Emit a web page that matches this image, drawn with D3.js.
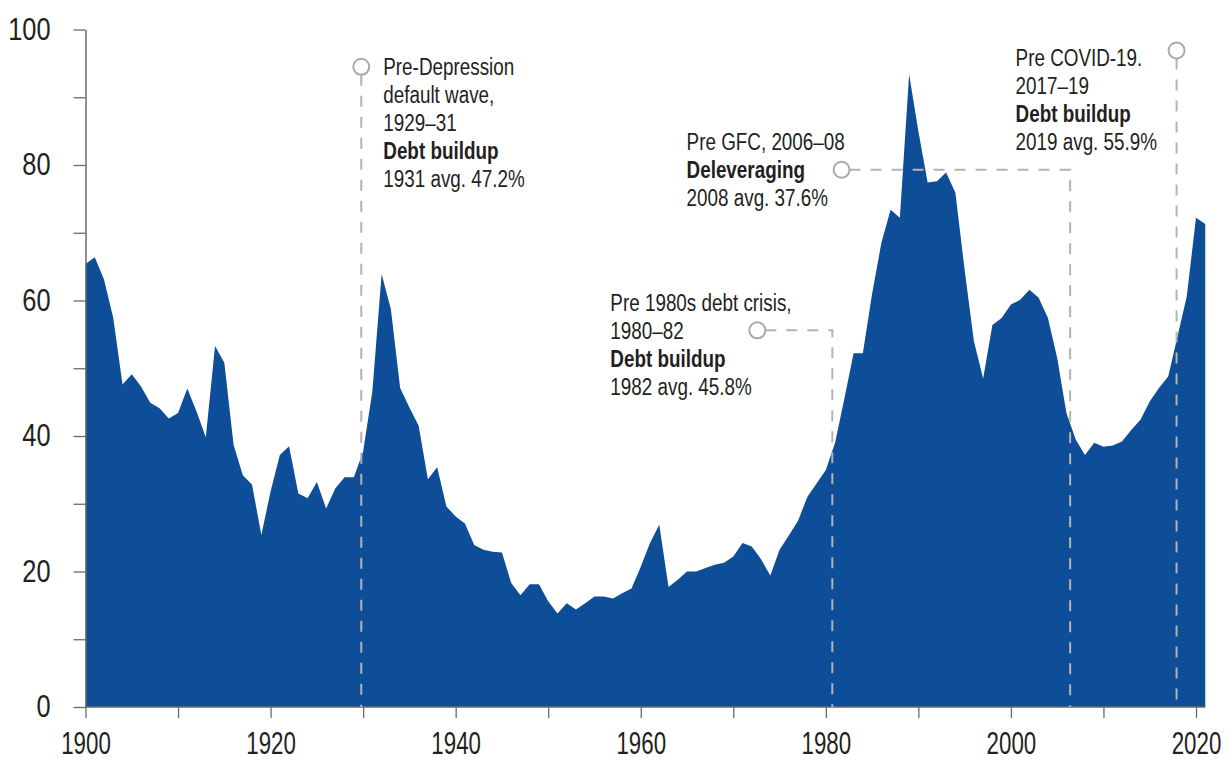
<!DOCTYPE html>
<html>
<head>
<meta charset="utf-8">
<script src="https://cdn.jsdelivr.net/npm/d3@7/dist/d3.min.js"></script>
<style>
  html, body { margin: 0; padding: 0; background: #fff; }
  svg { display: block; }
  text { font-family: "Liberation Sans", Arial, sans-serif; }
</style>
</head>
<body>
<svg id="chart" width="1232" height="767"></svg>
<script>
// ---------- DATA ----------
const startYear = 1900;
const values = [
  65.4, 66.4, 63.1, 57.4, 47.6, 49.1, 47.3, 44.9, 44.1, 42.6,   // 1900-1909
  43.4, 47.0, 43.6, 39.8, 53.3, 50.8, 38.7, 34.2, 32.8, 25.4,   // 1910-1919
  31.8, 37.2, 38.5, 31.5, 30.8, 33.2, 29.3, 32.3, 33.9, 33.9,   // 1920-1929
  37.7, 46.6, 63.9, 58.7, 47.1, 44.2, 41.5, 33.6, 35.4, 29.6,   // 1930-1939
  28.1, 27.1, 23.9, 23.2, 22.9, 22.8, 18.3, 16.5, 18.1, 18.1,   // 1940-1949
  15.6, 13.8, 15.3, 14.4, 15.3, 16.3, 16.3, 16.0, 16.8, 17.5,   // 1950-1959
  20.7, 24.2, 26.9, 17.7, 18.8, 20.0, 20.0, 20.5, 21.0, 21.3,   // 1960-1969
  22.2, 24.2, 23.7, 21.8, 19.4, 23.2, 25.3, 27.5, 31.0, 33.0,   // 1970-1979
  35.0, 39.0, 45.5, 52.2, 52.2, 61.0, 68.5, 73.4, 72.2, 93.4,   // 1980-1989
  85.0, 77.4, 77.6, 78.9, 75.9, 64.5, 54.0, 48.5, 56.4, 57.4,   // 1990-1999
  59.4, 60.1, 61.6, 60.4, 57.4, 51.5, 43.4, 39.5, 37.2, 39.0,   // 2000-2009
  38.4, 38.6, 39.2, 40.9, 42.4, 45.1, 47.1, 48.8, 54.7, 60.6,   // 2010-2019
  72.2, 71.3                                                    // 2020-2021
];
const years = values.map((_, i) => startYear + i);

const yTicks = [0, 10, 20, 30, 40, 50, 60, 70, 80, 90, 100];
const yTickLabels = ["0", "", "20", "", "40", "", "60", "", "80", "", "100"];
const xTicks = [1900, 1910, 1920, 1930, 1940, 1950, 1960, 1970, 1980, 1990, 2000, 2010, 2020];
const xTickLabels = ["1900", "", "1920", "", "1940", "", "1960", "", "1980", "", "2000", "", "2020"];

// annotation anchors: dashed drop year, marker circle (year, value)
const annotYears  = [1929.8, 1980.7, 2006.4, 2017.9];
const markerYears = [1929.8, 1972.6, 1981.7, 2017.9];
const markerVals  = [94.5, 55.6, 79.3, 96.9];
const annotLines = [
  [["Pre-Depression", false], ["default wave,", false], ["1929\u201331", false], ["Debt buildup", true], ["1931 avg. 47.2%", false]],
  [["Pre 1980s debt crisis,", false], ["1980\u201382", false], ["Debt buildup", true], ["1982 avg. 45.8%", false]],
  [["Pre GFC, 2006\u201308", false], ["Deleveraging", true], ["2008 avg. 37.6%", false]],
  [["Pre COVID-19.", false], ["2017\u201319", false], ["Debt buildup", true], ["2019 avg. 55.9%", false]]
];

// ---------- LAYOUT ----------
const svg = d3.select("#chart");
const x = d3.scaleLinear().domain([1900, 2020]).range([85.5, 1196]);
const y = d3.scaleLinear().domain([0, 100]).range([707, 29.5]);
const data = years.map((yr, i) => ({ year: yr, v: values[i] }));

// area
const area = d3.area()
  .x(d => x(d.year))
  .y0(y(0))
  .y1(d => y(d.v));
svg.append("path")
  .datum(data)
  .attr("d", area)
  .attr("fill", "#0e4d97");

// axes
const axisColor = "#6b6b6b";
const textColor = "#231f20";
const ySx = 0.82;
const yAxis = d3.axisLeft(y)
  .tickValues(yTicks)
  .tickFormat((d, i) => yTickLabels[i])
  .tickSize(12)
  .tickPadding(23)
  .tickSizeOuter(0);
const gy = svg.append("g").attr("transform", `translate(${x(1900)},0)`).call(yAxis);
gy.select(".domain").attr("stroke", axisColor).attr("stroke-width", 1.5);
gy.selectAll(".tick line").attr("stroke", axisColor).attr("stroke-width", 1.3);
gy.selectAll(".tick text")
  .attr("fill", textColor)
  .attr("x", -35 / ySx)
  .attr("transform", `scale(${ySx},1)`)
  .style("font-size", "31px");

const xSx = 0.72;
const xAxis = d3.axisBottom(x)
  .tickValues(xTicks)
  .tickFormat((d, i) => xTickLabels[i])
  .tickSize(11)
  .tickPadding(14)
  .tickSizeOuter(0);
const gx = svg.append("g").attr("transform", `translate(0,${y(0)})`).call(xAxis);
gx.select(".domain").attr("stroke", axisColor).attr("stroke-width", 1.5)
  .attr("d", `M${x(1900)},0H${x(years[years.length - 1])}`);
gx.selectAll(".tick line").attr("stroke", axisColor).attr("stroke-width", 1.3);
gx.selectAll(".tick text")
  .attr("fill", textColor)
  .attr("transform", `scale(${xSx},1)`)
  .style("font-size", "31px");

// annotations
const dashColor = "#b3b3b3";
const dash = "11,10";
const ann = svg.append("g");
const r = 8;

annotYears.forEach((ay, i) => {
  const cx = x(markerYears[i]);
  const cy = y(markerVals[i]);
  const lx = x(ay);
  let path;
  if (Math.abs(lx - cx) < 1) {
    path = `M${cx},${cy + r}V${y(0)}`;
  } else {
    path = `M${cx + r},${cy}H${lx}V${y(0)}`;
  }
  ann.append("path")
    .attr("d", path)
    .attr("fill", "none")
    .attr("stroke", dashColor)
    .attr("stroke-width", 2)
    .attr("stroke-dasharray", dash);
  ann.append("circle")
    .attr("cx", cx).attr("cy", cy).attr("r", r)
    .attr("fill", "#fff")
    .attr("stroke", "#a8a8a8")
    .attr("stroke-width", 2);
});

// text blocks: offsets relative to each marker
const lineH = 28;
const fontSize = 23;
const tSx = 0.82;
const textOffsets = [
  { dx: 22, line0: 0 },
  { dx: -147, line0: 1 },
  { dx: -155, line0: 1 },
  { dx: -161, line0: -0.25 }
];
annotLines.forEach((lines, i) => {
  const cx = x(markerYears[i]);
  const cy = y(markerVals[i]);
  const off = textOffsets[i];
  const g = ann.append("g")
    .attr("transform", `translate(${cx + off.dx},${cy}) scale(${tSx},1)`);
  const t = g.append("text")
    .attr("fill", textColor)
    .style("font-size", fontSize + "px");
  lines.forEach((ln, j) => {
    t.append("tspan")
      .attr("x", 0)
      .attr("y", (j - off.line0) * lineH + fontSize * 0.36)
      .style("font-weight", ln[1] ? "bold" : "normal")
      .text(ln[0]);
  });
});
</script>
</body>
</html>
